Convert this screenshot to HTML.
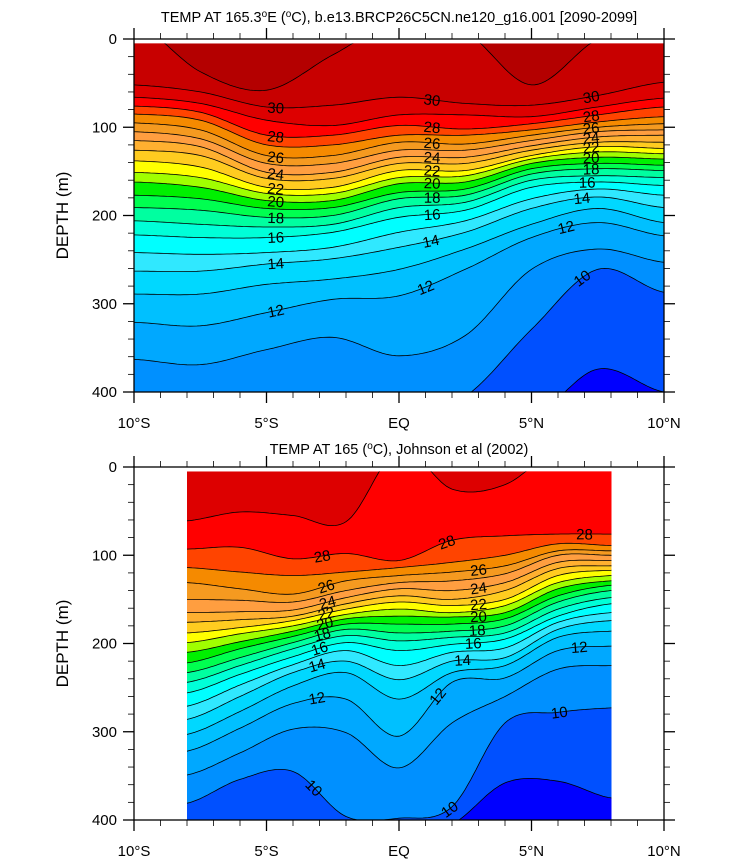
<!DOCTYPE html>
<html><head><meta charset="utf-8"><style>
html,body{margin:0;padding:0;background:#fff;}
svg{display:block;font-family:"Liberation Sans",Arial,sans-serif;}
</style></head><body>
<svg id="chart" width="732" height="868" viewBox="0 0 732 868" xmlns="http://www.w3.org/2000/svg">
<defs>
<clipPath id="clipTop"><rect x="134" y="43.4" width="530" height="348.6"/></clipPath>
<clipPath id="clipBot"><rect x="187" y="471.4" width="424.5" height="348.6"/></clipPath>
</defs>
<text x="399" y="22" text-anchor="middle" font-size="14.5">TEMP AT 165.3<tspan dy="-5" font-size="10">o</tspan><tspan dy="5">E (</tspan><tspan dy="-5" font-size="10">o</tspan><tspan dy="5">C), b.e13.BRCP26C5CN.ne120_g16.001 [2090-2099]</tspan></text>
<text x="399" y="454" text-anchor="middle" font-size="14.5">TEMP AT 165 (<tspan dy="-5" font-size="10">o</tspan><tspan dy="5">C), Johnson et al (2002)</tspan></text>
<g id="topPanel"></g>
<g id="botPanel"></g>
</svg>
<script>
// ---- data: isotherm depths (m) at each latitude ----
const topLats = [-10, -7.5, -5, -2.5, 0, 2.5, 5, 7.5, 10];
const topLevels = [31,30,29,28,27,26,25,24,23,22,21,20,19,18,17,16,15,14,13,12,11,10,9];
const topD31 = [-20,37,58,18,-20,-8,52,0,-20];
const topD30 = [52,60,77,75,66,73,75,64,49];
const topD29 = [66,73,92,98,86,86,88,77,67];
const topD28 = [76,83,109,109,98,102,96,86,77];
const topD27 = [85,92,120,120,109,109,103,94,88];
const topD26 = [95,103,132,132,117,119,109,100,96];
const topD25 = [105,113,141,141,126,126,115,105,103];
const topD24 = [115,122,151,151,134,134,121,111,109];
const topD23 = [126,132,158,158,141,141,126,117,117];
const topD22 = [138,145,168,168,149,149,132,122,124];
const topD21 = [151,157,175,175,157,155,136,128,130];
const topD20 = [162,168,183,183,164,162,141,134,136];
const topD19 = [177,181,192,191,174,170,147,141,143];
const topD18 = [191,194,202,200,181,177,153,147,149];
const topD17 = [206,210,213,210,191,185,160,155,157];
const topD16 = [222,225,225,219,202,194,168,162,166];
const topD15 = [242,244,242,236,219,206,181,170,177];
const topD14 = [263,263,255,249,236,219,192,179,191];
const topD13 = [289,289,278,272,261,238,210,192,208];
const topD12 = [321,325,310,295,291,261,225,208,223];
const topD11 = [363,369,352,338,359,336,261,238,253];
const topD10 = [430,430,430,430,430,405,329,261,287];
const topD9  = [430,430,430,430,430,430,430,374,400];
const topDepths = [topD31,topD30,topD29,topD28,topD27,topD26,topD25,topD24,topD23,topD22,topD21,topD20,topD19,topD18,topD17,topD16,topD15,topD14,topD13,topD12,topD11,topD10,topD9];
const topLabelLevels = [30,30,30,28,28,28,26,26,26,24,24,24,22,22,22,20,20,20,18,18,18,16,16,16,14,14,14,12,12,12,10];
const topLabelLats   = [-4.65,1.25,7.25,-4.65,1.25,7.25,-4.65,1.25,7.25,-4.65,1.25,7.25,-4.65,1.25,7.25,-4.65,1.25,7.25,-4.65,1.25,7.25,-4.65,1.25,7.1,-4.65,1.2,6.9,-4.65,1.0,6.3,6.9];

const botLats = [-8,-6,-4,-2,0,2,4,6,8];
const botLevels = [29,28,27,26,25,24,23,22,21,20,19,18,17,16,15,14,13,12,11,10,9];
const botD29 = [61,51,55,62,-20,25,20,-20,-20];
const botD28 = [93,91,104,98,106,83,78,76,76];
const botD27 = [114,119,123,119,114,108,100,87,89];
const botD26 = [131,138,144,129,123,119,112,95,95];
const botD25 = [150,151,153,140,131,129,121,100,100];
const botD24 = [165,164,162,148,138,140,131,108,106];
const botD23 = [176,173,169,155,146,150,140,115,112];
const botD22 = [188,182,174,161,153,157,150,123,117];
const botD21 = [199,189,180,167,161,165,157,131,123];
const botD20 = [210,198,186,172,169,170,165,138,129];
const botD19 = [222,206,192,178,178,178,172,146,134];
const botD18 = [233,216,199,184,188,186,180,153,140];
const botD17 = [244,225,206,191,197,193,188,161,148];
const botD16 = [256,235,215,199,208,201,195,169,155];
const botD15 = [271,247,224,208,225,210,205,176,165];
const botD14 = [286,260,233,220,241,220,216,184,174];
const botD13 = [303,277,248,233,263,233,225,193,186];
const botD12 = [322,296,268,263,305,244,239,208,203];
const botD11 = [349,324,297,301,341,290,260,229,225];
const botD10 = [381,354,345,396,398,385,290,278,273];
const botD9  = [420,420,420,420,420,405,358,356,375];
const botDepths = [botD29,botD28,botD27,botD26,botD25,botD24,botD23,botD22,botD21,botD20,botD19,botD18,botD17,botD16,botD15,botD14,botD13,botD12,botD11,botD10,botD9];
const botLabelLevels = [28,28,28,26,24,22,20,18,16,14,12,10,26,24,22,20,18,16,14,12,10,12,10];
const botLabelLats   = [-2.9,1.8,7.0,-2.75,-2.7,-2.75,-2.8,-2.9,-3.0,-3.1,-3.1,-3.2,3.0,3.0,3.0,3.0,2.95,2.8,2.4,1.45,1.9,6.8,6.05];

const xTickLabels = ["10°S","5°S","EQ","5°N","10°N"];
const xTickLats = [-10,-5,0,5,10];
const yTickLabels = ["0","100","200","300","400"];
const yTickDepths = [0,100,200,300,400];

const bandColor = {31:"#b40000",30:"#c80000",29:"#dd0000",28:"#ff0000",27:"#ff4400",26:"#f58a00",25:"#f59a20",24:"#ff9e40",23:"#ffb030",22:"#ffcc20",21:"#ffff00",20:"#a0ff00",19:"#00f000",18:"#00ff50",17:"#00ffa0",16:"#00ffd8",15:"#00ffff",14:"#30e8ff",13:"#00d8ff",12:"#00c0ff",11:"#00a8ff",10:"#0090ff",9:"#0050ff",8:"#0000ff"};

const NS = "http://www.w3.org/2000/svg";
function xOf(lat){ return 399 + lat * 26.5; }
function mk(tag, attrs, parent){
  const e = document.createElementNS(NS, tag);
  for (const k in attrs) e.setAttribute(k, attrs[k]);
  parent.appendChild(e); return e;
}
function curve(lats, depths, yOf){
  const p = lats.map((l,i)=>[xOf(l), yOf(depths[i])]);
  const dx = p[1][0]-p[0][0];
  const pts = [[p[0][0]-dx, p[0][1]], ...p, [p[p.length-1][0]+dx, p[p.length-1][1]]];
  const out = [];
  for (let i=0;i<pts.length-1;i++){
    const P0 = pts[Math.max(0,i-1)], P1 = pts[i], P2 = pts[i+1], P3 = pts[Math.min(pts.length-1,i+2)];
    for (let s=0;s<20;s++){
      const t=s/20, t2=t*t, t3=t2*t;
      const f=(a,b,c,d)=>0.5*((2*b)+(-a+c)*t+(2*a-5*b+4*c-d)*t2+(-a+3*b-3*c+d)*t3);
      out.push([f(P0[0],P1[0],P2[0],P3[0]), f(P0[1],P1[1],P2[1],P3[1])]);
    }
  }
  out.push(pts[pts.length-1]);
  return out;
}
function yAt(poly, x){
  for (let i=0;i<poly.length-1;i++){
    if (poly[i][0]<=x && poly[i+1][0]>=x){
      const t=(x-poly[i][0])/(poly[i+1][0]-poly[i][0]||1);
      return [poly[i][1]+t*(poly[i+1][1]-poly[i][1]), Math.atan2(poly[i+1][1]-poly[i][1], poly[i+1][0]-poly[i][0])*180/Math.PI];
    }
  }
  return [0,0];
}

function drawPanel(g, cfg){
  const yOf = d => cfg.y0 + d*0.8825;
  const clip = mk("g", {"clip-path":"url(#"+cfg.clip+")"}, g);
  const bg = mk("rect", {x:cfg.cx, y:yOf(5), width:cfg.cw, height:yOf(400)-yOf(5), fill:bandColor[cfg.levels[0]]}, clip);
  
  
  const polys = [];
  cfg.levels.forEach((lev, k)=>{
    const poly = curve(cfg.lats, cfg.depths[k], yOf);
    polys.push(poly);
    let d = "M"+poly.map(q=>q[0].toFixed(1)+","+q[1].toFixed(1)).join("L");
    d += "L"+poly[poly.length-1][0].toFixed(1)+","+(yOf(460)).toFixed(1)+"L"+poly[0][0].toFixed(1)+","+(yOf(460)).toFixed(1)+"Z";
    const band = mk("path", {d:d, fill:bandColor[lev-1]}, clip);
    
    
  });
  cfg.levels.forEach((lev,k)=>{
    const poly = polys[k];
    const ln = mk("path", {d:"M"+poly.map(q=>q[0].toFixed(1)+","+q[1].toFixed(1)).join("L"), fill:"none", stroke:"#000", "stroke-width":"0.8"}, clip);
    
    
  });
  cfg.labLevels.forEach((lev,i)=>{
    const k = cfg.levels.indexOf(lev);
    const x = xOf(cfg.labLats[i]);
    const r = yAt(polys[k], x);
    const t = mk("text", {x:x, y:r[0]+5.5, "text-anchor":"middle", "font-size":"15", transform:"rotate("+r[1].toFixed(1)+" "+x.toFixed(1)+" "+r[0].toFixed(1)+")"}, clip);
    t.textContent = String(lev);
    
    
  });
  const fr = mk("rect", {x:134, y:cfg.y0, width:530, height:yOf(400)-cfg.y0, fill:"none", stroke:"#000", "stroke-width":"1.3"}, g);
  
  
  const yb = yOf(400);
  for (let lat=-10; lat<=10; lat++){
    const x = xOf(lat), maj = lat%5===0, L = maj?11:6;
    mk("line",{x1:x,y1:cfg.y0,x2:x,y2:cfg.y0-L,stroke:"#000","stroke-width":maj?1.3:0.8},g);
    mk("line",{x1:x,y1:yb,x2:x,y2:yb+L,stroke:"#000","stroke-width":maj?1.3:0.8},g);
  }
  for (let d=0; d<=400; d+=20){
    const y = yOf(d), maj = d%100===0, L = maj?11:6;
    mk("line",{x1:134,y1:y,x2:134-L,y2:y,stroke:"#000","stroke-width":maj?1.3:0.8},g);
    mk("line",{x1:664,y1:y,x2:664+L,y2:y,stroke:"#000","stroke-width":maj?1.3:0.8},g);
  }
  xTickLabels.forEach((s,i)=>{
    const t = mk("text",{x:xOf(xTickLats[i]), y:yb+36, "text-anchor":"middle","font-size":"15"},g);
    t.textContent = s;
    
    
  });
  yTickLabels.forEach((s,i)=>{
    const t = mk("text",{x:117, y:yOf(yTickDepths[i])+5, "text-anchor":"end","font-size":"15"},g);
    t.textContent = s;
    
    
  });
  const yc = (cfg.y0+yb)/2;
  const yt = mk("text",{x:68, y:yc, "text-anchor":"middle","font-size":"17", transform:"rotate(-90 68 "+yc+")"},g);
  yt.textContent = "DEPTH (m)";
  
  
}

drawPanel(document.getElementById("topPanel"), {y0:39, clip:"clipTop", cx:134, cw:530, lats:topLats, levels:topLevels, depths:topDepths, labLevels:topLabelLevels, labLats:topLabelLats});
drawPanel(document.getElementById("botPanel"), {y0:467, clip:"clipBot", cx:187, cw:424.5, lats:botLats, levels:botLevels, depths:botDepths, labLevels:botLabelLevels, labLats:botLabelLats});
</script>
</body></html>
